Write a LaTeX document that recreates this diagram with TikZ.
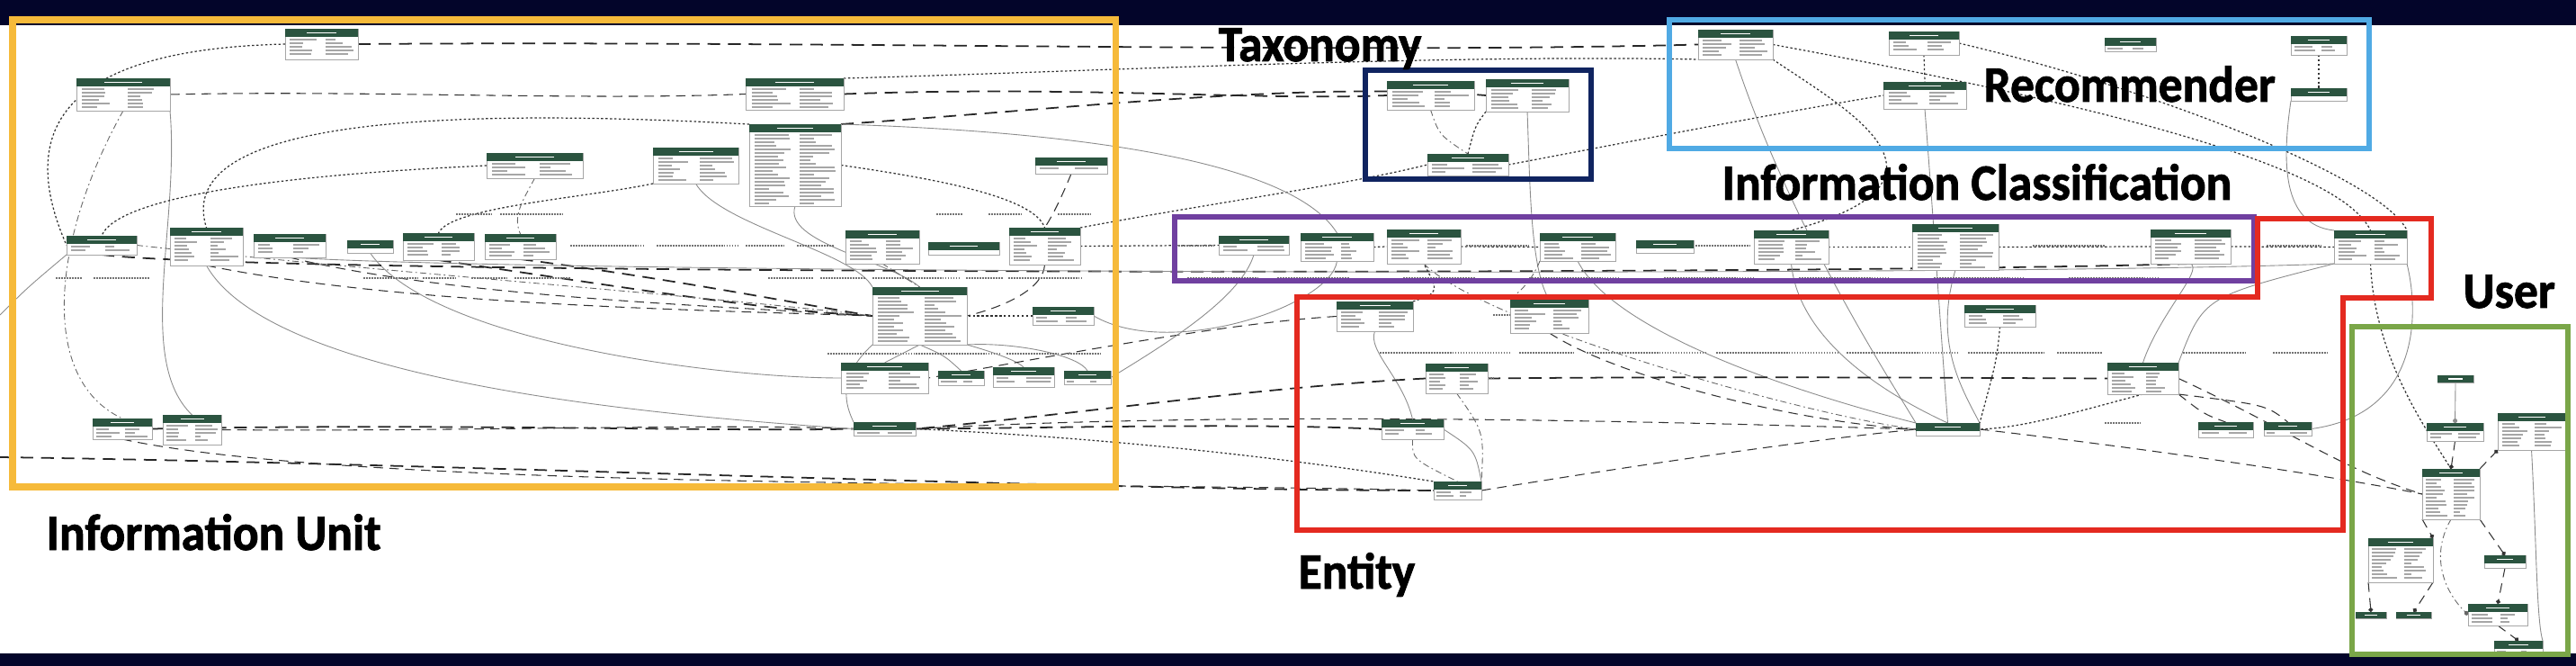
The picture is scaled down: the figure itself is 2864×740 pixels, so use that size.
\documentclass[tikz,border=0pt]{standalone}
\usepackage{fontspec}
\setmainfont{Carlito}
\newfontfamily\grpfont{Carlito}[BoldFont=Carlito Bold, BoldFeatures={FakeBold=1.6}]
\usetikzlibrary{arrows.meta}
\definecolor{navyband}{RGB}{3,5,42}
\definecolor{hdrgreen}{RGB}{43,84,64}
\definecolor{yel}{RGB}{246,186,58}
\definecolor{navybox}{RGB}{16,36,96}
\definecolor{bluebox}{RGB}{80,170,228}
\definecolor{purplebox}{RGB}{112,64,160}
\definecolor{redbox}{RGB}{228,42,32}
\definecolor{greenbox}{RGB}{122,166,72}
\pgfdeclarelayer{bg}
\pgfsetlayers{bg,main}
\tikzset{
  tblbox/.style={draw=black!35, line width=0.25pt, fill=white, inner sep=0pt, outer sep=0pt},
  fld/.style={draw=black!35, line width=0.4pt},
  c1/.style={draw=black!80, line width=0.3pt, dash pattern=on 3pt off 2pt},
  c2/.style={draw=black!80, line width=0.35pt, dash pattern=on 0.7pt off 0.7pt},
  c3/.style={draw=black!60, line width=0.25pt, dash pattern=on 2pt off 1pt on 0.5pt off 1pt},
  c4/.style={draw=black!45, line width=0.25pt},
  c5/.style={draw=black!85, line width=0.5pt, dash pattern=on 4pt off 2.5pt},
  dotend/.style={-{Circle[length=1.4pt]}},
  lblbar/.style={draw=black!55, line width=0.8pt, dash pattern=on 0.5pt off 0.35pt},
  grplabel/.style={font=\grpfont\bfseries\fontsize{15.2}{18}\selectfont, text=black, inner sep=0pt, anchor=base west, yscale=1.06}
}
\newcommand\tbl[5]{%
  \pgfmathsetmacro\tw{#4-#2}%
  \pgfmathsetmacro\th{#5-#3}%
  \pgfmathsetmacro\hh{min(9,\th)}%
  \node[tblbox, minimum width={\tw*0.01cm}, minimum height={\th*0.01cm}] (#1) at ({(#2+#4)/2},{(#3+#5)/2}) {};
  \fill[hdrgreen] (#2,#3) rectangle (#4,{#3+\hh});
  \draw[white, line width=0.55pt] ({#2+0.3*\tw},{#3+\hh/2}) -- ({#2+0.7*\tw},{#3+\hh/2});
  \pgfmathtruncatemacro\nr{(\th-\hh-2)/4}%
  \ifnum\nr>0
    \foreach \r in {1,...,\nr}{%
      \pgfmathsetmacro\yy{#3+\hh+\r*4-1}%
      \pgfmathsetmacro\la{0.15+0.25*rnd}%
      \pgfmathsetmacro\lb{0.1+0.3*rnd}%
      \draw[fld] ({#2+0.06*\tw},\yy) -- ({#2+(0.06+\la)*\tw},\yy);
      \draw[fld] ({#2+0.55*\tw},\yy) -- ({#2+(0.55+\lb)*\tw},\yy);
    }%
  \fi
}
\begin{document}
\begin{tikzpicture}[x=0.01cm,y=-0.01cm]
\pgfmathsetseed{7}
\useasboundingbox (0,0) rectangle (2864,740);
% ---------- tables ----------
\tbl{t1}{317}{32}{398}{66}
\tbl{t2}{85}{87}{189}{123}
\tbl{t3}{829}{87}{938}{122}
\tbl{t4}{833}{138}{935}{229}
\tbl{t5}{541}{170}{648}{198}
\tbl{t6}{726}{164}{821}{204}
\tbl{t7}{1151}{175}{1231}{193}
\tbl{t8}{74}{262}{152}{283}
\tbl{t9}{189}{253}{270}{295}
\tbl{t10}{282}{260}{362}{286}
\tbl{t11}{386}{267}{437}{281}
\tbl{t12}{448}{259}{527}{289}
\tbl{t13}{539}{260}{618}{288}
\tbl{t14}{940}{256}{1022}{293}
\tbl{t15}{1032}{269}{1111}{283}
\tbl{t16}{1122}{253}{1201}{294}
\tbl{t17}{970}{319}{1075}{383}
\tbl{t18}{1148}{341}{1216}{361}
\tbl{t19}{935}{403}{1032}{437}
\tbl{t20}{1043}{412}{1094}{428}
\tbl{t21}{1104}{408}{1172}{430}
\tbl{t22}{1183}{412}{1235}{427}
\tbl{t23}{949}{469}{1018}{484}
\tbl{t24}{103}{465}{169}{488}
\tbl{t25}{181}{461}{246}{494}
\tbl{t26}{1542}{90}{1639}{122}
\tbl{t27}{1652}{88}{1744}{124}
\tbl{t28}{1587}{171}{1677}{195}
\tbl{t29}{1888}{33}{1971}{66}
\tbl{t30}{2100}{35}{2178}{61}
\tbl{t31}{2094}{91}{2186}{121}
\tbl{t32}{2340}{42}{2397}{57}
\tbl{t33}{2547}{40}{2609}{61}
\tbl{t34}{2547}{98}{2609}{112}
\tbl{t35}{1355}{262}{1433}{283}
\tbl{t36}{1446}{259}{1527}{290}
\tbl{t37}{1542}{255}{1624}{293}
\tbl{t38}{1712}{259}{1796}{290}
\tbl{t39}{1819}{267}{1883}{281}
\tbl{t40}{1950}{256}{2033}{293}
\tbl{t41}{2126}{249}{2222}{300}
\tbl{t42}{2391}{255}{2480}{293}
\tbl{t43}{2595}{256}{2676}{293}
\tbl{t44}{1486}{335}{1571}{368}
\tbl{t45}{1679}{333}{1766}{370}
\tbl{t46}{2184}{339}{2263}{363}
\tbl{t47}{1585}{404}{1654}{437}
\tbl{t48}{2343}{403}{2422}{438}
\tbl{t49}{1536}{466}{1605}{488}
\tbl{t50}{2130}{470}{2201}{484}
\tbl{t51}{2444}{469}{2505}{486}
\tbl{t52}{2517}{469}{2570}{484}
\tbl{t53}{1594}{535}{1647}{555}
\tbl{t54}{2710}{417}{2750}{425}
\tbl{t55}{2698}{470}{2761}{490}
\tbl{t56}{2777}{459}{2852}{500}
\tbl{t57}{2693}{521}{2757}{577}
\tbl{t58}{2633}{598}{2705}{647}
\tbl{t59}{2762}{617}{2808}{631}
\tbl{t60}{2744}{671}{2810}{695}
\tbl{t61}{2619}{680}{2653}{687}
\tbl{t62}{2664}{680}{2703}{687}
\tbl{t63}{2773}{712}{2827}{730}
\coordinate (L1) at (0,508);
\coordinate (L2) at (0,350);
% ---------- connectors (behind tables) ----------
\begin{pgfonlayer}{bg}
\fill[white] (0,0) rectangle (2864,740);
% information unit
\draw[c5] (t1.east) .. controls (900,45) and (1500,60) .. (t29.west);
\draw[c1] (t2.east) .. controls (400,100) and (650,112) .. (t3.west);
\draw[c5] (t3.east) .. controls (1200,95) and (1400,112) .. (t26.west);
\draw[c5] (t4.north east) .. controls (1200,120) and (1450,90) .. (t27.west);
\draw[c2] (t1.west) .. controls (60,55) and (20,150) .. (t8.west);
\draw[c3] (t2.south) .. controls (60,260) and (40,420) .. (t24.north);
\draw[c4] (t2.south east) .. controls (200,250) and (150,400) .. (t25.north);
\draw[c2] (t5.west) .. controls (300,195) and (130,220) .. (t8.north);
\draw[c2] (t4.north west) .. controls (500,120) and (190,130) .. (t9.north);
\draw[c2] (t6.south west) .. controls (650,220) and (500,230) .. (t12.north);
\draw[c3] (t5.south) .. controls (580,225) and (570,240) .. (t13.north);
\draw[c4] (t6.south) .. controls (800,250) and (950,280) .. (t17.north west);
\draw[c4] (t4.south) .. controls (870,270) and (990,290) .. (t17.north);
\draw[c2] (t4.east) .. controls (1050,200) and (1150,220) .. (t16.north);
\draw[c1] (t7.south) .. controls (1180,220) and (1170,240) .. (t16.north);
\draw[c1] (t9.south) .. controls (450,340) and (800,345) .. (t17.west);
\draw[c1] (t10.south) .. controls (500,330) and (800,340) .. (t17.west);
\draw[c5] (t12.south) .. controls (700,320) and (850,345) .. (t17.west);
\draw[c5] (t13.south) .. controls (750,310) and (900,340) .. (t17.west);
\draw[c3] (t8.east) .. controls (400,300) and (800,330) .. (t17.west);
\draw[c4] (t11.south) .. controls (480,380) and (800,420) .. (t19.west);
\draw[c5] (t24.east) .. controls (500,470) and (800,480) .. (t23.west);
\draw[c1] (t25.east) .. controls (500,480) and (800,470) .. (t23.west);
\draw[c4] (t9.south) .. controls (300,420) and (700,460) .. (t23.west);
\draw[c4] (t17.south) -- (t19.north);
\draw[c4] (t17.south west) .. controls (930,420) and (940,450) .. (t23.north west);
\draw[c3] (t14.south) -- (t17.north);
\draw[c1] (t16.south) .. controls (1160,320) and (1120,340) .. (t17.east);
\draw[c2] (t18.west) -- (t17.east);
\draw[c4] (t17.south east) .. controls (1100,390) and (1130,400) .. (t21.north);
\draw[c4] (t17.south east) .. controls (1130,380) and (1200,395) .. (t22.north);
\draw[c4] (t17.south) .. controls (1050,395) .. (t20.north);
\draw[c5] (L1) .. controls (500,515) and (1200,545) .. (t53.west);
\draw[c1] (t24.south) .. controls (400,545) and (1200,535) .. (t53.west);
\draw[c4] (t8.south west) .. controls (30,320) .. (L2);
\draw[c1] (t23.east) .. controls (1400,455) and (1900,470) .. (t50.west);
\draw[c2] (t23.east) .. controls (1300,490) and (1500,520) .. (t53.north west);
\draw[c5] (t8.south) .. controls (300,306) and (2000,306) .. (t42.south);
\draw[c4] (t10.south) .. controls (600,304) and (2200,308) .. (t43.south west);
\draw[c2] (t16.east) -- (t35.west);
% taxonomy / recommender
\draw[c3] (t26.south) .. controls (1600,150) .. (t28.north);
\draw[c2] (t27.south west) .. controls (1640,140) .. (t28.north);
\draw[c4] (t27.south) .. controls (1701,200) and (1701,300) .. (t45.north);
\draw[c2] (t28.east) .. controls (1800,160) and (1950,130) .. (t31.west);
\draw[c2] (t16.north east) .. controls (1350,225) and (1500,205) .. (t28.west);
\draw[c2] (t3.north east) .. controls (1200,80) and (1600,60) .. (t29.south west);
\draw[c4] (t4.north east) .. controls (1300,150) and (1450,200) .. (t36.north);
\draw[c2] (t29.east) .. controls (2300,110) and (2600,180) .. (t43.north);
\draw[c2] (t30.east) .. controls (2400,100) and (2650,200) .. (t43.north east);
\draw[c2] (t30.south) -- (t31.north);
\draw[c2] (t29.south east) .. controls (2050,120) and (2200,200) .. (t40.north);
\draw[c4] (t31.south) .. controls (2150,250) and (2160,400) .. (t50.north);
\draw[c4] (t29.south) .. controls (1990,250) and (2100,420) .. (t50.north west);
\draw[c2] (t33.south) -- (t34.north);
\draw[c4] (t34.south west) .. controls (2537,180) and (2537,250) .. (t43.north west);
% classification / entity
\draw[c4] (t38.south) .. controls (1800,380) and (2050,450) .. (t50.north west);
\draw[c4] (t40.south) .. controls (2000,380) and (2100,440) .. (t50.north);
\draw[c3] (t37.south) .. controls (1650,360) and (2000,460) .. (t50.west);
\draw[c4] (t41.south) .. controls (2150,380) and (2180,430) .. (t50.north east);
\draw[c1] (t45.south) .. controls (1800,420) and (2000,470) .. (t50.west);
\draw[c5] (t47.east) .. controls (1900,418) and (2200,420) .. (t48.west);
\draw[c2] (t48.south) .. controls (2300,460) and (2250,475) .. (t50.east);
\draw[c1] (t50.east) .. controls (2400,500) and (2600,530) .. (t57.west);
\draw[c1] (t53.east) .. controls (1800,520) and (2000,490) .. (t50.west);
\draw[c3] (t49.south) .. controls (1570,510) .. (t53.north);
\draw[c4] (t49.east) .. controls (1640,500) .. (t53.north east);
\draw[c3] (t47.south) .. controls (1650,480) .. (t53.north east);
\draw[c4] (t44.south) .. controls (1520,390) and (1560,420) .. (t49.north);
\draw[c5] (t47.west) .. controls (1400,430) and (1200,460) .. (t23.east);
\draw[c5] (t49.west) .. controls (1400,470) and (1200,475) .. (t23.east);
\draw[c1] (t44.west) .. controls (1350,360) and (1150,400) .. (t19.east);
\draw[c2] (t44.north east) .. controls (1600,325) .. (t37.south);
\draw[c3] (t38.south west) .. controls (1700,320) and (1680,330) .. (t45.north west);
\draw[c4] (t36.south) .. controls (1480,340) and (1300,400) .. (t18.east);
\draw[c4] (t35.south) .. controls (1380,330) and (1300,380) .. (t22.east);
\draw[c2] (t46.south) .. controls (2220,400) .. (t50.north east);
\draw[c4] (t48.north) .. controls (2400,350) and (2450,300) .. (t42.south);
\draw[c4] (t48.north east) .. controls (2450,330) .. (t43.south west);
\draw[c1] (t48.south east) .. controls (2450,460) .. (t51.north);
\draw[c1] (t48.south east) .. controls (2520,450) .. (t52.north);
\draw[c2] (t41.east) -- (t42.west);
\draw[c2] (t42.east) -- (t43.west);
\draw[c2] (t37.east) -- (t38.west);
\draw[c2] (t36.east) -- (t37.west);
\draw[c2] (t40.east) -- (t41.west);
\draw[c2] (t43.south) .. controls (2640,400) and (2700,480) .. (t57.north);
\draw[c4] (t43.south east) .. controls (2690,350) and (2690,460) .. (t52.east);
\draw[c1] (t48.east) .. controls (2550,480) and (2600,520) .. (t57.west);
% user
\draw[c4, dotend] (t54.south) -- (t55.north);
\draw[c1, dotend] (t55.south) -- (t57.north);
\draw[c1, dotend] (t57.north east) -- (t56.south west);
\draw[c1, dotend] (t57.south west) -- (t58.north east);
\draw[c1, dotend] (t57.south east) -- (t59.north);
\draw[c1, dotend] (t59.south) -- (t60.north);
\draw[c3, dotend] (t57.south) .. controls (2700,620) and (2720,660) .. (t60.west);
\draw[c1, dotend] (t58.south west) -- (t61.north);
\draw[c1, dotend] (t58.south east) -- (t62.north);
\draw[c1, dotend] (t60.south) -- (t63.north);
\draw[c4] (t56.south) .. controls (2820,600) and (2820,690) .. (t63.north east);
% edge label placeholders
\foreach \a/\b/\c in {634/717/273, 730/821/273, 829/871/273, 886/927/273,
  507/547/238, 556/626/238, 1041/1070/238, 1099/1136/238, 1176/1212/238,
  62/91/309, 104/166/309, 404/464/309, 470/506/309, 524/564/309, 572/634/309,
  854/904/309, 912/962/309, 970/1066/309, 1074/1115/309, 1121/1202/309,
  920/1016/393, 1018/1111/393, 1119/1177/393, 1187/1223/393,
  1534/1679/392, 1689/1749/392, 1764/1898/392, 1908/2043/392, 2053/2178/392,
  2188/2272/392, 2287/2337/392, 2427/2497/392, 2527/2587/392,
  1630/1700/273, 1885/1945/273, 2260/2340/273, 2520/2580/273,
  1310/1350/273, 1320/1400/309, 1420/1500/309, 1560/1640/309, 1700/1800/309,
  1850/1950/309, 2000/2100/309, 2150/2250/309, 2300/2400/309,
  1660/1740/350, 1600/1660/420, 2340/2380/470}
  \draw[lblbar] (\a,\c) -- (\b,\c);
\end{pgfonlayer}
% ---------- bands ----------
\fill[navyband] (0,0) rectangle (2864,28);
\fill[navyband] (0,726) rectangle (2864,740);
% ---------- group frames ----------
\draw[yel, line width=2pt] (14,22) rectangle (1240,541);
\draw[navybox, line width=1.8pt] (1518,78) rectangle (1769,199);
\draw[bluebox, line width=1.8pt] (1856,22) rectangle (2634,165);
\draw[purplebox, line width=1.8pt] (1306,241) rectangle (2506,312);
\draw[redbox, line width=1.8pt] (1442,330) -- (2510,330) -- (2510,243) -- (2703,243) -- (2703,331) -- (2605,331) -- (2605,589) -- (1442,589) -- cycle;
\draw[greenbox, line width=1.8pt] (2615,363) rectangle (2855,727);
% ---------- group labels ----------
\node[grplabel] (lInfoUnit) at (51,611) {Information Unit};
\node[grplabel] (lTax) at (1354,68) {Taxonomy};
\node[grplabel] (lRec) at (2205,113) {Recommender};
\node[grplabel] (lCls) at (1914,222) {Information Classification};
\node[grplabel] (lEnt) at (1443,654) {Entity};
\node[grplabel] (lUser) at (2738,342) {User};
\end{tikzpicture}
\end{document}
